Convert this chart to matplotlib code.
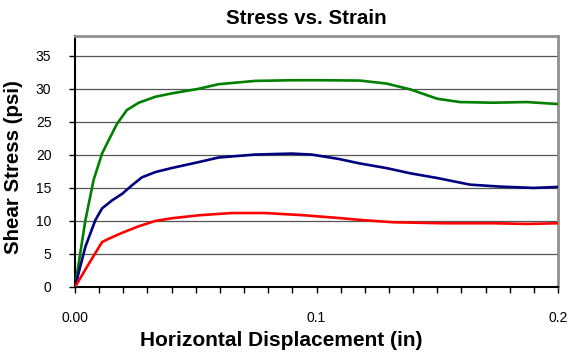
import matplotlib
matplotlib.use("Agg")
import matplotlib.pyplot as plt
from matplotlib.ticker import MultipleLocator

plt.rcParams['font.family'] = ['Liberation Sans', 'DejaVu Sans']

# Displacement (in) and shear stress (psi) for the three normal loads
green_x = [0, 0.0043, 0.0077, 0.0112, 0.0139, 0.0174, 0.0215, 0.0264, 0.0333, 0.0399,
           0.0511, 0.0594, 0.0745, 0.0897, 0.1035, 0.118, 0.129, 0.139, 0.150, 0.1594,
           0.1732, 0.187, 0.2]
green_y = [0, 10.1, 16.2, 20.2, 22.2, 24.7, 26.8, 27.9, 28.8, 29.3,
           30.0, 30.7, 31.2, 31.3, 31.3, 31.25, 30.8, 29.9, 28.5, 28.0,
           27.9, 28.0, 27.7]

blue_x = [0, 0.0043, 0.0084, 0.0112, 0.0153, 0.0195, 0.0236, 0.0277, 0.0333, 0.0399,
          0.0511, 0.0594, 0.0745, 0.0897, 0.098, 0.109, 0.118, 0.129, 0.139, 0.150,
          0.1635, 0.176, 0.190, 0.2]
blue_y = [0, 6.1, 10.1, 11.9, 13.1, 14.1, 15.4, 16.6, 17.4, 18.0,
          18.9, 19.6, 20.05, 20.2, 20.05, 19.4, 18.7, 18.0, 17.2, 16.5,
          15.5, 15.2, 15.0, 15.15]

red_x = [0, 0.0057, 0.0112, 0.0139, 0.0195, 0.0264, 0.0333, 0.0399, 0.0511, 0.065,
         0.0787, 0.0952, 0.109, 0.120, 0.1318, 0.1525, 0.1732, 0.187, 0.2]
red_y = [0, 3.5, 6.8, 7.3, 8.2, 9.2, 10.0, 10.4, 10.85, 11.2,
         11.2, 10.85, 10.45, 10.1, 9.8, 9.65, 9.65, 9.55, 9.65]

x_ticks = [0.0, 0.1, 0.2]
x_tick_labels = ['0.00', '0.1', '0.2']
y_ticks = [0, 5, 10, 15, 20, 25, 30, 35]

W, H = 582, 356
fig = plt.figure(figsize=(W / 100, H / 100), dpi=100)
ax = fig.add_axes([75 / W, 1 - 287 / H, (558 - 75) / W, (287 - 36) / H])

for xs, ys, c in [(green_x, green_y, '#008000'),
                  (blue_x, blue_y, '#000080'),
                  (red_x, red_y, '#FF0000')]:
    ax.plot(xs, ys, color=c, lw=1.9, solid_joinstyle='round',
            solid_capstyle='round', zorder=3)

ax.set_xlim(0, 0.2)
ax.set_ylim(0, 38)
ax.set_xticks(x_ticks)
ax.set_xticklabels(x_tick_labels)
ax.xaxis.set_minor_locator(MultipleLocator(0.01))
ax.set_yticks(y_ticks)

ax.yaxis.grid(True, color='#555555', lw=0.9)
ax.set_axisbelow(True)

ax.tick_params(axis='both', which='both', direction='out', length=4, width=1,
               color='black', labelsize=10)
ax.tick_params(axis='x', which='major', pad=13.5)
ax.tick_params(axis='y', which='major', pad=13)

for s in ['left', 'bottom']:
    ax.spines[s].set_color('black')
    ax.spines[s].set_linewidth(1.5)
for s in ['top', 'right']:
    ax.spines[s].set_color('#909090')
    ax.spines[s].set_linewidth(2)

fig.text(306.5 / W, 1 - 19 / H, 'Stress vs. Strain', ha='center', va='center',
         fontsize=14.8, fontweight='bold')
fig.text(281 / W, 1 - 340 / H, 'Horizontal Displacement (in)', ha='center',
         va='center', fontsize=15, fontweight='bold')
fig.text(13.5 / W, 1 - 167 / H, 'Shear Stress (psi)', ha='center', va='center',
         rotation=90, fontsize=14.8, fontweight='bold')

fig.savefig('out.png', dpi=100)
